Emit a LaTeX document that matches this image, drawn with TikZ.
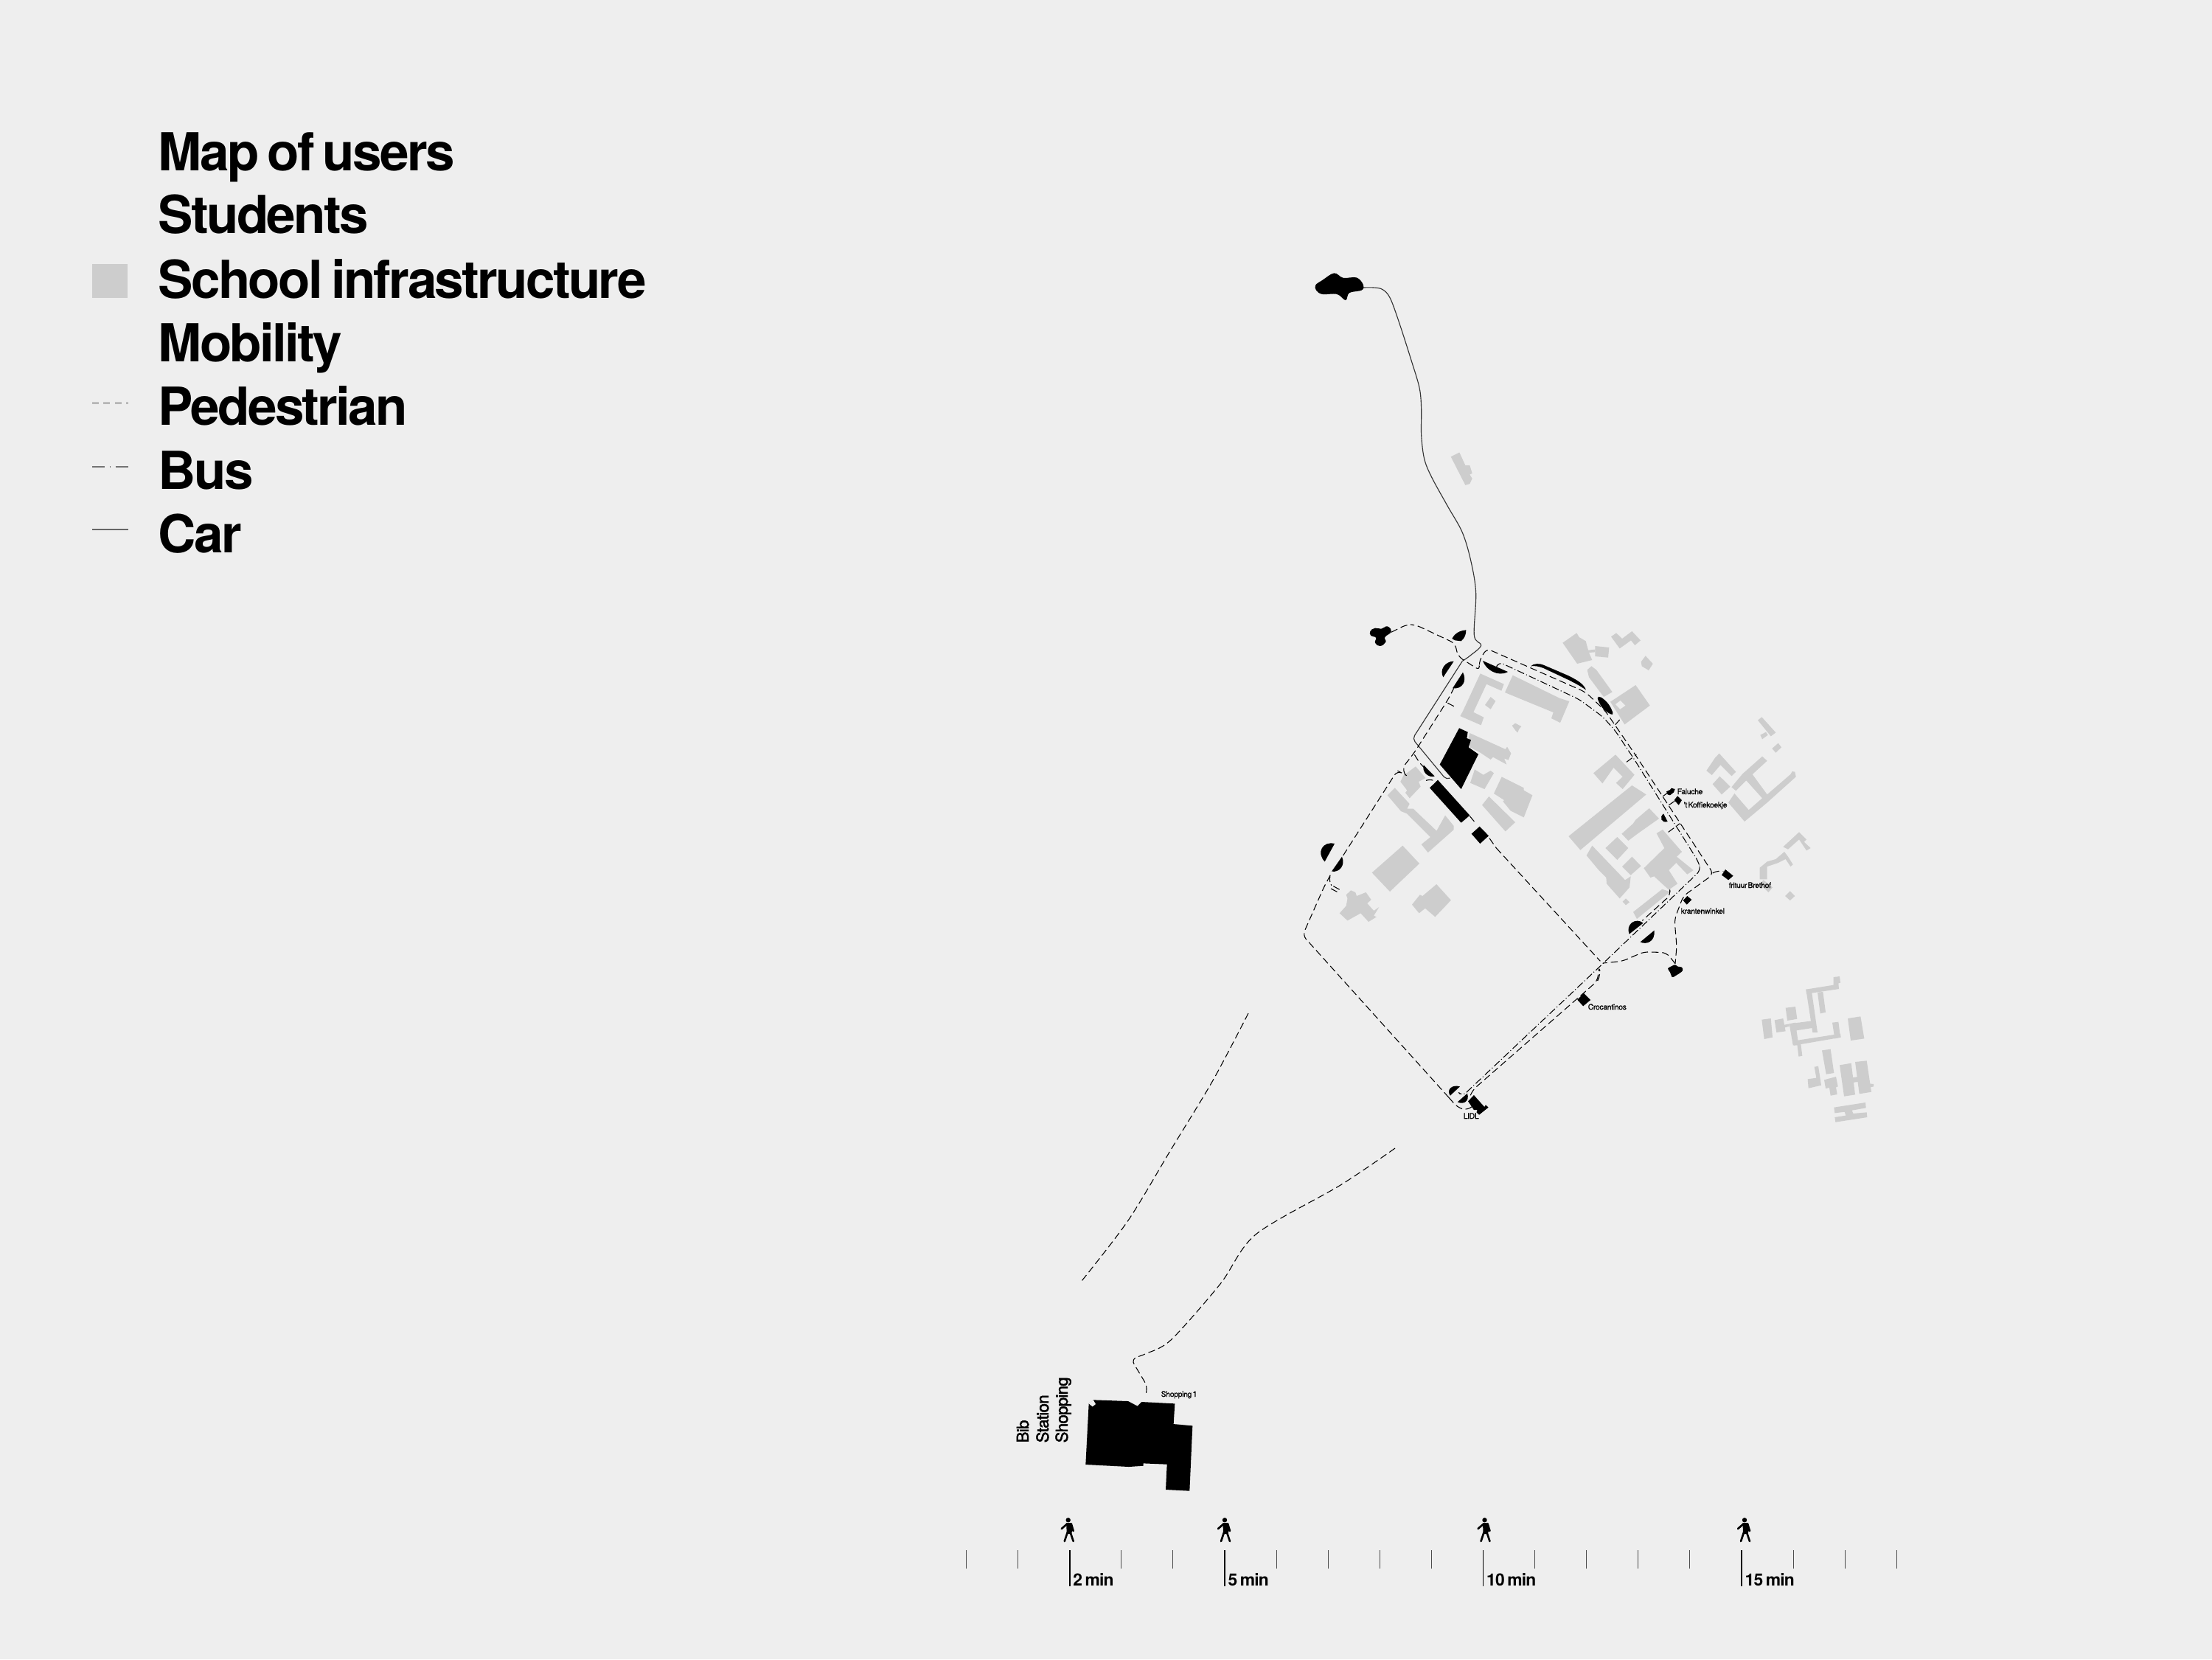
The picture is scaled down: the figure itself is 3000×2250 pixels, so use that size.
\documentclass[tikz,border=0pt]{standalone}
\usepackage{fontspec}
\setmainfont{TeX Gyre Heros}
\newfontfamily\legendfont{TeX Gyre Heros}[LetterSpace=-3.8,WordSpace=0.65]
\newfontfamily\mapfont{TeX Gyre Heros}[LetterSpace=-3,WordSpace=0.5,FakeBold=0.8]
\newfontfamily\sidefont{TeX Gyre Heros}[LetterSpace=-3,FakeBold=2]
\definecolor{paper}{HTML}{EEEEEE}
\definecolor{schoolgrey}{HTML}{CDCDCD}
\newcommand{\walker}[1]{%
  \begin{scope}[shift={(#1,2058)}]
    \fill (0,3.2) circle (3.2);
    \fill (-2.5,7) -- (3,7) -- (6,17) -- (4,22) -- (-2,22) -- cycle;
    \draw[walk] (-1,8) -- (-9,15);
    \draw[walk] (4,8) -- (7,18);
    \draw[walk] (-1,20) -- (-5,32);
    \draw[walk] (3,20) -- (7,32);
  \end{scope}}
\begin{document}
\begin{tikzpicture}
  [x=0.01cm,y=-0.01cm,
   school/.style={fill=schoolgrey},
   solid black/.style={fill=black},
   ped/.style={draw=black,line width=0.3pt,dash pattern=on 2.7pt off 1.4pt},
   bus/.style={draw=black,line width=0.3pt,dash pattern=on 2.8pt off 0.9pt on 0.3pt off 0.9pt},
   car/.style={draw=black!80,line width=0.32pt},
   walk/.style={line width=0.75pt,line cap=round},
   tick/.style={draw=black!70,line width=0.3pt},
   tickmajor/.style={draw=black,line width=0.5pt},
   legendtext/.style={anchor=base west,inner sep=0pt,font=\fontsize{20.2pt}{20.2pt}\legendfont\bfseries},
   minlabel/.style={anchor=base west,inner sep=0pt,font=\fontsize{6.5pt}{6.5pt}\legendfont\bfseries},
   sidelabel/.style={anchor=base west,inner sep=0pt,rotate=90,font=\fontsize{6.3pt}{6.3pt}\sidefont},
   maplabel/.style={anchor=base west,inner sep=0pt,font=\fontsize{2.95pt}{2.95pt}\mapfont},
   z2/.style={shift={(1750,340)},xscale=1/3,yscale=1/2.8},
   z3/.style={shift={(1780,840)},scale=1/3},
   z4/.style={shift={(2100,840)},scale=1/3},
   z5/.style={shift={(1740,1150)},xscale=1/2.8,yscale=1/3},
   z6/.style={shift={(2200,1180)},scale=1/3},
   z7/.style={shift={(1340,1820)},scale=1/3}]
  \fill[paper] (0,0) rectangle (3000,2250);
  \useasboundingbox (0,0) rectangle (3000,2250);

  % legend
  \foreach \ypos/\name/\txt in {231/lgmap/Map of users,316.5/lgstudents/Students,404/lgschool/School infrastructure,490/lgmobility/Mobility,576.5/lgped/Pedestrian,663/lgbus/Bus,749/lgcar/Car}
    \node[legendtext] (\name) at (214,\ypos) {\txt};
  \fill[school] (125,358) rectangle (173,404);
  \draw[draw=black!75,line width=0.25pt,dash pattern=on 2.5pt off 1.9pt] (125,546) -- (174,546);
  \draw[draw=black!55,line width=0.3pt,dash pattern=on 4.8pt off 2pt on 0.2pt off 2pt] (125,633) -- (174,633);
  \draw[draw=black!60,line width=0.3pt] (125,718) -- (174,718);

  % school buildings, north and centre
  \begin{scope}[z2]
    \fill[school] plot coordinates {(653,782) (688,766) (712,815) (730,815) (740,845) (730,850) (740,865) (730,885) (712,890)};
  \end{scope}
  \begin{scope}[z3]
    \fill[school] plot coordinates {(683,220) (779,263) (769,290) (708,263) (655,377) (697,398) (686,430) (601,393) (611,375)};
    \fill[school] plot coordinates {(725,315) (745,332) (725,365) (702,348)};
    \fill[school] plot coordinates {(815,227) (1005,320) (1045,333) (1008,420) (972,402) (980,378) (783,297)};
    \fill[school] plot coordinates {(812,432) (825,422) (850,435) (840,447) (835,460) (825,450)};
    \fill[school] plot coordinates {(1018,95) (1075,55) (1085,72) (1112,88) (1122,125) (1150,122) (1150,133) (1125,135) (1138,165) (1077,180)};
    \fill[school] plot coordinates {(1150,108) (1207,114) (1203,155) (1150,150)};
    \fill[school] plot coordinates {(1215,70) (1236,55) (1260,78) (1300,48) (1335,85) (1312,105) (1296,85) (1250,118)};
    \fill[school] plot coordinates {(1337,172) (1355,148) (1385,180) (1368,207) (1340,190)};
    \fill[school] plot coordinates {(1118,205) (1135,190) (1155,205) (1220,295) (1185,315) (1125,235)};
    \fill[school] plot coordinates {(1212,335) (1315,267) (1373,350) (1270,427)};
    \fill[paper] plot coordinates {(1233,345) (1253,330) (1273,350) (1252,365)};
    \fill[school] plot coordinates {(640,462) (785,528) (792,518) (808,545) (797,572) (780,565) (790,590) (735,560) (725,570) (680,540) (640,520) (633,490)};
    \fill[school] plot coordinates {(660,610) (695,632) (725,615) (738,625) (700,690) (642,665)};
    \fill[school] plot coordinates {(770,640) (860,685) (860,695) (895,715) (860,805) (806,778) (775,740) (780,735) (738,708)};
    \fill[school] plot coordinates {(718,720) (825,825) (785,862) (690,755)};
    \fill[school] plot coordinates {(1233,550) (1310,632) (1262,690) (1235,665) (1262,640) (1225,603) (1180,667) (1143,625)};
    \fill[school] plot coordinates {(1300,675) (1358,712) (1090,938) (1042,882)};
    \fill[school] plot coordinates {(1370,768) (1410,810) (1325,870) (1285,900) (1258,872) (1305,830) (1315,815)};
    \fill[school] plot coordinates {(1240,885) (1285,930) (1240,978) (1192,930)};
    \fill[school] plot coordinates {(1138,920) (1272,1060) (1295,1045) (1290,1090) (1250,1135) (1197,1075) (1195,1050) (1165,1020) (1115,960)};
    \fill[school] plot coordinates {(1300,965) (1337,1003) (1295,1040) (1260,1005)};
    \fill[school] plot coordinates {(1400,870) (1425,855) (1503,945) (1482,965) (1550,1020) (1525,1037) (1480,990) (1450,1020) (1485,1075) (1450,1100) (1390,1045) (1375,1050) (1348,1012) (1432,930)};
    \fill[school] plot coordinates {(1423,1097) (1455,1108) (1320,1218) (1305,1190)};
    \fill[school] plot coordinates {(1275,1135) (1290,1150) (1275,1162) (1262,1148)};
    \fill[school] plot coordinates {(420,598) (460,645) (432,660) (440,680) (395,727) (378,705) (385,695) (358,660) (370,635)};
    \fill[school] plot coordinates {(335,685) (395,750) (385,770) (410,770) (505,860) (540,797) (575,840) (575,855) (470,948) (443,915) (480,885) (385,790) (360,780) (305,715)};
    \fill[school] plot coordinates {(367,920) (435,993) (315,1107) (242,1030)};
  \end{scope}
  \begin{scope}[z5]
    \fill[school] plot coordinates {(583,147) (638,212) (578,280) (540,245) (517,265) (490,230) (520,190) (530,195)};
    \fill[school] plot coordinates {(258,172) (275,180) (280,195) (315,180) (335,210) (320,225) (345,255) (365,240) (345,275) (355,280) (325,300) (295,265) (245,295) (215,265) (240,235) (245,205) (240,190)};
  \end{scope}

  % school buildings, east
  \begin{scope}[z4]
    \fill[school] plot coordinates {(852,410) (868,397) (925,460) (905,475)};
    \fill[school] plot coordinates {(862,470) (885,458) (893,470) (870,487)};
    \fill[school] plot coordinates {(910,525) (935,503) (948,520) (925,542)};
    \fill[school] plot coordinates {(678,563) (695,545) (763,620) (745,637) (700,592) (665,633) (643,615)};
    \fill[school] plot coordinates {(697,638) (740,680) (705,712) (668,670)};
    \fill[school] plot coordinates {(745,682) (790,628) (870,557) (890,575) (830,630) (890,712) (985,630) (992,618) (1003,620) (1007,640) (890,745) (798,822) (732,745) (757,708) (815,775) (870,727) (805,655) (763,697)};
    \fill[school] plot coordinates {(860,1010) (890,985) (925,975) (960,945) (975,965) (995,997) (985,1005) (965,975) (935,990) (890,1005) (890,1057) (860,1057)};
    \fill[school] plot coordinates {(955,925) (1020,865) (1050,895) (1040,905) (1067,930) (1050,940) (1020,895) (975,935)};
    \fill[school] plot coordinates {(875,1060) (912,1090) (895,1110) (860,1075)};
    \fill[school] plot coordinates {(983,1105) (1003,1125) (983,1143) (963,1125)};
  \end{scope}

  % school buildings, south east
  \begin{scope}[z6]
    \fill[school] plot coordinates {(860,435) (885,432) (888,458) (880,460) (882,483) (750,503) (748,485) (860,467)};
    \fill[school] plot coordinates {(748,485) (770,485) (795,660) (775,660)};
    \fill[school] plot coordinates {(795,497) (817,495) (828,578) (806,583)};
    \fill[school] plot coordinates {(855,620) (880,617) (888,680) (865,685)};
    \fill[school] plot coordinates {(680,625) (780,612) (785,640) (708,652)};
    \fill[school] plot coordinates {(695,695) (888,665) (890,680) (698,713)};
    \fill[school] plot coordinates {(680,625) (705,620) (718,712) (695,712)};
    \fill[school] plot coordinates {(665,560) (705,555) (712,605) (672,612)};
    \fill[school] plot coordinates {(712,708) (727,708) (733,755) (718,758)};
    \fill[school] plot coordinates {(620,610) (655,603) (665,655) (628,660)};
    \fill[school] plot coordinates {(655,630) (680,625) (680,635) (655,642)};
    \fill[school] plot coordinates {(568,608) (605,603) (612,680) (578,687)};
    \fill[school] plot coordinates {(918,603) (970,595) (985,685) (930,693)};
    \fill[school] plot coordinates {(813,733) (848,728) (862,825) (830,830)};
    \fill[school] plot coordinates {(782,800) (798,797) (810,875) (758,887) (755,850) (790,845)};
    \fill[school] plot coordinates {(822,853) (870,840) (878,880) (870,883) (875,912) (848,917) (843,885) (828,888)};
    \fill[school] plot coordinates {(885,793) (932,785) (948,913) (903,920)};
    \fill[school] plot coordinates {(948,780) (995,775) (1014,902) (965,910)};
    \fill[school] plot coordinates {(930,845) (960,840) (965,860) (930,865)};
    \fill[school] plot coordinates {(1005,868) (1023,870) (1023,880) (1005,884)};
    \fill[school] plot coordinates {(862,965) (990,945) (992,967) (935,977) (940,990) (995,985) (997,1005) (868,1025) (865,1005) (910,998) (905,983) (865,988)};
  \end{scope}

  % routes
  \begin{scope}[z2]
    \draw[car] plot[smooth,tension=.55] coordinates {(297,140) (340,140) (375,147) (405,178) (440,265) (490,410) (525,520) (533,600) (533,700) (545,790) (575,860) (640,970) (700,1070) (735,1180) (755,1300) (748,1460) (776,1498) (735,1535) (700,1558)};
    \draw[car,rounded corners=1.5pt] (700,1558) -- (497,1853) -- (635,2009) -- (650,2002);
  \end{scope}
  \begin{scope}[z3,rounded corners=2pt]
    % pedestrian
    \draw[ped] (320,52) -- (385,20) -- (420,22) -- (580,97) -- (592,150) -- (682,208) -- (676,175) -- (708,118) -- (1110,295) -- (1190,370) -- (1310,545) -- (1632,1036) -- (1509,1125) -- (1473,1220) -- (1482,1330) -- (1476,1400);
    \draw[ped] (1628,1032) -- (1650,1020) -- (1672,1025);
    \draw[ped] (1476,1400) -- (1440,1355) -- (1348,1352) -- (1262,1390) -- (1182,1398);
    \draw[ped] (1455,1105) -- (1458,1120) -- (1342,1225);
    \draw[ped] (1160,1470) -- (1172,1445) -- (1166,1410) -- (1160,1470) -- (651,1915) -- (639,1945);
    \draw[ped] (748,930) -- (1171,1390);
    \draw[ped] (720,890) -- (748,930);
    \draw[ped] (640,800) -- (665,830);
    \draw[ped] (555,1945) -- (590,1985) -- (630,1997) -- (651,1980);
    \draw[ped] (555,1945) -- (-40,1285) -- (46,1090) -- (78,1030);
    \draw[ped] (70,1050) -- (65,1065) -- (75,1078);
    \draw[ped] (125,960) -- (345,615) -- (365,625) -- (378,632);
    \draw[ped] (378,632) -- (365,605) -- (412,545) -- (552,325) -- (575,280);
    \draw[ped] (550,340) -- (585,358);
    \draw[ped] (415,550) -- (440,590) -- (470,615);
    \draw[ped] (462,655) -- (485,648) -- (505,660);
    \draw[ped] (85,1085) -- (118,1103);
    \draw[ped] (75,1095) -- (110,1113);
    \draw[ped] (1278,580) -- (1318,550);
    \draw[ped] (1448,865) -- (1495,830);
    \draw[ped] (1425,720) -- (1445,705);
    \draw[ped] (1450,755) -- (1475,738);
    \draw[ped] (1232,428) -- (1250,408);
    % bus
    \draw[bus] (752,185) -- (757,172) -- (1085,325) -- (1180,395) -- (1230,450) -- (1310,570) -- (1570,985) -- (1580,1020) -- (1171,1410) -- (609,1940) -- (600,1930);
  \end{scope}
  \draw[ped] plot[smooth,tension=.5] coordinates {(1693,1374) (1645,1465) (1588,1559) (1530,1655) (1467,1737)};
  \draw[ped] plot[smooth,tension=.5] coordinates {(1892,1557) (1818,1607) (1703,1674) (1655,1741) (1588,1817) (1553,1836) (1540,1841) (1537,1847) (1543,1858) (1553,1875) (1555,1883) (1554,1892)};

  % destinations
  \begin{scope}[z2]
    \fill[solid black] plot[smooth cycle,tension=.6] coordinates {(103,130) (130,112) (178,85) (215,103) (270,102) (297,130) (290,150) (240,160) (225,188) (190,165) (130,165) (105,150)};
  \end{scope}
  \begin{scope}[z3]
    \fill[solid black] plot[smooth cycle,tension=.8] coordinates {(235,48) (255,35) (280,38) (305,28) (320,50) (295,72) (298,92) (275,108) (255,95) (258,74) (238,66)};
    \fill[solid black] (568,78) .. controls (580,55) and (600,45) .. (625,43) .. controls (625,60) and (620,75) .. (605,88) -- (580,85) -- cycle;
    \fill[solid black] (575,170) .. controls (540,170) and (515,205) .. (532,235) -- cycle;
    \fill[solid black] (612,215) .. controls (630,250) and (610,285) .. (570,280) -- cycle;
    \fill[solid black] (693,168) .. controls (705,205) and (755,235) .. (795,213) -- cycle;
    \fill[solid black] (888,190) .. controls (900,178) and (925,178) .. (940,185) -- (1040,228) .. controls (1085,250) and (1105,265) .. (1113,287) .. controls (1090,270) and (1060,255) .. (1040,245) -- (940,198) .. controls (920,190) and (905,188) .. (888,190) -- cycle;
    \fill[solid black] plot[smooth cycle,tension=.6] coordinates {(1160,320) (1175,317) (1205,345) (1222,380) (1213,385) (1180,360)};
    \fill[solid black] plot coordinates {(597,442) (632,458) (628,483) (645,490) (635,520) (675,548) (605,690) (518,590)};
    \fill[solid black] plot coordinates {(510,653) (640,797) (605,827) (477,685)};
    \fill[solid black] plot coordinates {(680,842) (717,880) (682,912) (647,872)};
    \fill[solid black] (452,592) .. controls (445,620) and (470,645) .. (497,638) -- cycle;
    \fill[solid black] (90,912) .. controls (40,900) and (15,950) .. (50,985) -- cycle;
    \fill[solid black] (120,965) .. controls (135,1000) and (110,1030) .. (78,1025) -- cycle;
    \fill[solid black] (1428,790) .. controls (1410,805) and (1420,830) .. (1445,822) -- cycle;
  \end{scope}
  \begin{scope}[z4]
    \fill[solid black] plot coordinates {(480,700) (495,693) (500,686) (515,690) (510,703) (495,715) (485,712)};
    \fill[solid black] plot coordinates {(525,718) (543,735) (530,755) (512,735)};
    \fill[solid black] plot coordinates {(720,1017) (752,1043) (732,1060) (715,1047) (705,1040)};
    \fill[solid black] plot coordinates {(565,1125) (583,1140) (563,1160) (548,1143)};
  \end{scope}
  \begin{scope}[z5]
    \fill[solid black] (1368,305) .. controls (1340,280) and (1300,310) .. (1315,350) -- cycle;
    \fill[solid black] (1410,335) .. controls (1415,380) and (1380,395) .. (1357,382) -- cycle;
    \fill[solid black] plot[smooth cycle,tension=.5] coordinates {(1462,490) (1480,478) (1490,475) (1500,482) (1515,485) (1517,500) (1490,520) (1478,525) (1470,505)};
    \fill[solid black] plot coordinates {(1142,590) (1168,618) (1140,643) (1118,617)};
    \fill[solid black] (672,970) .. controls (640,960) and (620,985) .. (635,1007) -- cycle;
    \fill[solid black] (700,998) .. controls (710,1030) and (685,1045) .. (663,1033) -- cycle;
    \fill[solid black] plot coordinates {(725,1005) (765,1053) (770,1045) (780,1055) (745,1085) (735,1075) (738,1065) (725,1065) (703,1030)};
  \end{scope}
  \begin{scope}[z7]
    \fill[solid black] plot coordinates {(410,250) (430,235) (570,240) (608,260) (625,243) (760,250) (755,333) (832,340) (820,605) (723,600) (728,497) (632,493) (632,503) (573,507) (397,498)};
    \fill[paper] plot coordinates {(410,250) (425,262) (438,252) (428,235)};
  \end{scope}

  % map labels
  \node[maplabel] (faluche) at (2274,1077) {Faluche};
  \node[maplabel] (koffie) at (2283,1095) {'t Koffiekoekje};
  \node[maplabel] (frituur) at (2344,1204) {frituur Brethof};
  \node[maplabel] (kranten) at (2279,1239) {krantenwinkel};
  \node[maplabel] (crocant) at (2153,1369) {Crocantinos};
  \node[maplabel] (lidl) at (1984,1517) {LIDL};
  \node[maplabel] (shopone) at (1574,1894) {Shopping 1};
  \node[sidelabel] (bib) at (1395,1957) {Bib};
  \node[sidelabel] (station) at (1422,1957) {Station};
  \node[sidelabel] (shopping) at (1448,1957) {Shopping};

  % time scale
  \foreach \i in {0,...,18}
    \draw[tick] (1310.5+\i*70.1,2102) -- (1310.5+\i*70.1,2127);
  \foreach \i/\lab/\off in {2/2 min/-2,5/5 min/0,10/10 min/2,15/15 min/4} {
    \draw[tickmajor] (1310.5+\i*70.1,2102) -- (1310.5+\i*70.1,2151);
    \node[minlabel] (min\i) at (1310.5+\i*70.1+4,2150) {\lab};
    \walker{1310.5+\i*70.1+\off}
  }
\end{tikzpicture}
\end{document}
